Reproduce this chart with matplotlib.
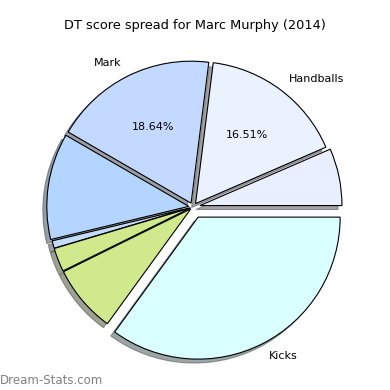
import matplotlib
matplotlib.use('Agg')
import matplotlib.pyplot as plt

# slice shares (percent), counter-clockwise from 3 o'clock
labels = ['', 'Handballs', 'Mark', '', '', '', '', 'Kicks']
shares = [6.5, 16.51, 18.64, 12.1, 0.85, 2.7, 7.7, 35.0]
colors = ['#E9EFFF', '#EAF1FF', '#C4D9FF', '#B4D5FF', '#C2DCFA', '#D0E98D', '#D0E98D', '#DAFFFF']
show_pct = [False, True, True, False, False, False, False, False]
explode = [0.05, 0.03, 0.03, 0.03, 0.02, 0.02, 0.02, 0.08]

fig = plt.figure(figsize=(3.9, 3.9), dpi=100)
# axes sized so the pie radius is ~142px
ax = fig.add_axes([15.5 / 390, 1 - 384.5 / 390, 355 / 390, 355 / 390])

wedges, texts, autotexts = ax.pie(shares, labels=labels, colors=colors, explode=explode,
                                  autopct='%.2f%%', shadow=True, startangle=0,
                                  wedgeprops={'edgecolor': 'black', 'linewidth': 0.8},
                                  textprops={'fontsize': 8})
for t, show in zip(autotexts, show_pct):
    t.set_visible(show)

fig.text(0.5, 1 - 26 / 390, 'DT score spread for Marc Murphy (2014)', ha='center', va='center', fontsize=9.3)
fig.text(0.0, 1 - 380 / 390, 'Dream-Stats.com', ha='left', va='center', fontsize=8.5, color='#808080')

plt.savefig('out.png', dpi=100)
